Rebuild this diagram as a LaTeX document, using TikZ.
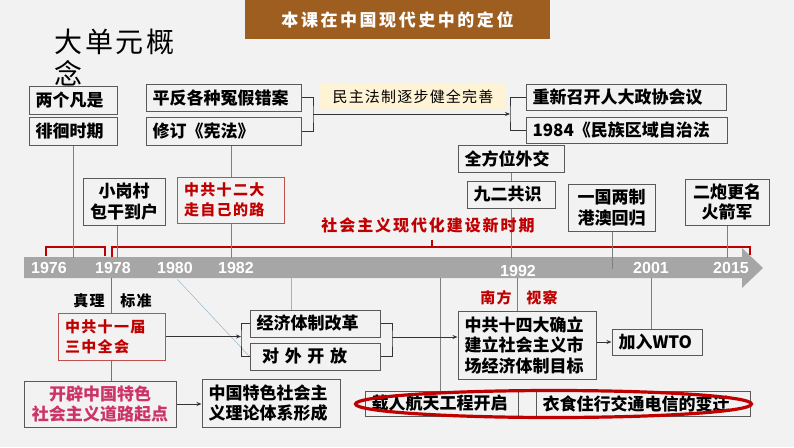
\documentclass[tikz,border=0pt]{standalone}
\usepackage{fontspec}
\setmainfont{Noto Sans CJK SC}
\newfontfamily\yearfont{Liberation Sans}
\usepackage{tikz}
\usetikzlibrary{arrows.meta,positioning,calc,shapes.geometric,backgrounds}
\usepackage{xcolor}
\definecolor{unBg}{HTML}{F2F2F2}
\definecolor{unBrown}{HTML}{9E5E1F}
\definecolor{unEdge}{HTML}{595959}
\definecolor{unRed}{HTML}{C00000}
\definecolor{unRedEdge}{HTML}{C0504D}
\definecolor{unPink}{HTML}{CC3366}
\definecolor{unCream}{HTML}{FFF3D6}
\definecolor{unTeal}{HTML}{92B9C9}
\definecolor{unAxis}{HTML}{A6A6A6}
\definecolor{unLine}{HTML}{7F7F7F}
\tikzset{
  arr/.style={-{Stealth[length=5pt,width=4pt]}, line width=0.9pt, draw=black!80},
  brk/.style={line width=0.9pt, draw=black!80},
  guide/.style={line width=0.5pt, draw=unLine},
  tealline/.style={line width=0.5pt, draw=unTeal},
  redline/.style={line width=0.6pt, draw=unRed!70},
  redbrk/.style={line width=1.1pt, draw=unRed},
  box/.style={draw=unEdge, fill=unBg, line width=1pt, inner xsep=6.5pt, inner ysep=1pt, align=left, font=\fontsize{17}{20.5}\selectfont\bfseries},
  redbox/.style={draw=unRedEdge, fill=unBg, line width=1pt, inner xsep=7pt, inner ysep=1pt, align=left, text=unRed, font=\fontsize{15}{20}\selectfont\bfseries\addfontfeature{LetterSpace=9}},
  lbl/.style={font=\fontsize{15}{18}\selectfont\bfseries\addfontfeature{LetterSpace=7}},
  tag/.style={text=unRed, font=\fontsize{16}{18}\selectfont\bfseries\addfontfeature{LetterSpace=12}},
  year/.style={text=white, font=\yearfont\fontsize{16}{18}\selectfont\bfseries},
  oval/.style={ellipse, draw=unRed, line width=3.2pt}
}

\begin{document}
\begin{tikzpicture}[x=1pt,y=-1pt]
  \useasboundingbox (0,0) rectangle (794,447);
  % title and heading
  \node[fill=unBrown, minimum width=305pt, minimum height=39pt, text=white, font=\fontsize{17}{20}\selectfont\bfseries\addfontfeature{LetterSpace=15}] (title) at (397.5,19.5) {本课在中国现代史中的定位};
  \node[anchor=west, align=left, font=\fontsize{28}{32}\selectfont\addfontfeature{LetterSpace=9}] (unit) at (51,58) {大单元概\\念};

  % upper boxes
  \node[box, text width=75pt, minimum height=28pt] (liang) at (73,100) {两个凡是};
  \node[box, text width=75pt, minimum height=28pt] (paihuai) at (73,131) {徘徊时期};
  \node[box, text width=142pt, minimum height=27pt] (pingfan) at (223.5,97.5) {平反各种冤假错案};
  \node[box, text width=142pt, minimum height=28pt] (xiuding) at (223.5,131) {修订《宪法》};
  \node[fill=unCream, minimum width=186pt, minimum height=26pt, font=\fontsize{15}{18}\selectfont\addfontfeature{LetterSpace=8}] (minzhu) at (413,97) {民主法制逐步健全完善};
  \node[box, text width=187pt, minimum height=26pt] (chongxin) at (626,97) {重新召开人大政协会议};
  \node[box, text width=188pt, minimum height=26pt] (minzu) at (626.5,130) {1984《民族区域自治法};
  \node[box, text width=93pt, minimum height=27pt] (quanfangwei) at (511,158.5) {全方位外交};
  \node[box, text width=75pt, minimum height=27pt] (jiuer) at (511,194.5) {九二共识};
  \node[box, align=center, text width=74pt, minimum height=47pt] (yiguo) at (611.5,207.5) {一国两制\\港澳回归};
  \node[box, align=center, text width=71pt, minimum height=46pt] (erpao) at (727,202) {二炮更名\\火箭军};
  \node[box, align=center, text width=69pt, minimum height=47pt] (xiaogang) at (124,201.5) {小岗村\\包干到户};
  \node[redbox, text width=93pt, minimum height=46pt] (shier) at (230.5,200) {中共十二大\\走自己的路};
  \node[tag] (era) at (428,225) {社会主义现代化建设新时期};

  % timeline years
  \foreach \yr/\x/\y in {1976/49/268,1978/113/268,1980/175/268,1982/236/268,1992/518/271,2001/651/268,2015/731/268}{
    \node[year] (yr\yr) at (\x,\y) {\yr};
  }

  % lower boxes
  \node[lbl] (zhenli) at (89,301) {真理};
  \node[lbl] (biaozhun) at (136,301) {标准};
  \node[lbl, text=unRed] (nanfang) at (496,298) {南方};
  \node[lbl, text=unRed] (shicha) at (542,298) {视察};
  \node[redbox, text width=93pt, minimum height=47pt] (shiyi) at (111.5,336.5) {中共十一届\\三中全会};
  \node[box, text width=117pt, minimum height=27pt] (jingji) at (315,323.5) {经济体制改革};
  \node[box, text width=117pt, minimum height=27pt] (duiwai) at (315,356.5) {\ 对 外 开 放};
  \node[box, text width=125pt, minimum height=68pt] (shisi) at (527,345) {中共十四大确立\\建立社会主义市\\场经济体制目标};
  \node[box, text width=77pt, minimum height=26pt] (wto) at (657,342) {加入WTO};
  \node[box, align=center, text width=139pt, minimum height=46pt, text=unPink] (kaipi) at (100,404) {开辟中国特色\\社会主义道路起点};
  \node[box, text width=125pt, minimum height=48pt] (lilun) at (271,403) {中国特色社会主\\义理论体系形成};
  \node[box, text width=140pt, minimum height=25pt] (zairen) at (441.5,403.5) {载人航天工程开启};
  \node[box, text width=5pt, minimum height=25pt] (kong) at (527,403.5) {};
  \node[box, text width=201pt, minimum height=25pt] (yishi) at (643,403.5) {衣食住行交通电信的变迁};

  % connectors
  \coordinate (joinA) at (313,114);
  \coordinate (joinB) at (510,114);
  \draw[brk] (pingfan.east) -| (joinA) |- (xiuding.east);
  \draw[arr] (joinA) -- (joinB);
  \draw[brk] (chongxin.west) -| (joinB) |- (minzu.west);
  \coordinate (joinC) at (241,336.5);
  \coordinate (joinD) at (392,337);
  \draw[arr] (shiyi.east) -- (joinC);
  \draw[brk] (jingji.west) -| (joinC) |- (duiwai.west);
  \draw[brk] (jingji.east) -| (joinD) |- (duiwai.east);
  \draw[arr] (joinD) -- (joinD -| shisi.west);
  \draw[arr] (shisi.east |- wto.west) -- (wto.west);
  \draw[arr] (kaipi.east) -- (kaipi.east -| lilun.west);

  \node[oval, minimum width=396pt, minimum height=27pt] (ring) at (553.5,404) {};

  \begin{scope}[on background layer]
    \fill[unBg] (0,0) rectangle (794,447);
    \fill[unAxis] (24,257) -- (742,257) -- (742,248) -- (763,268) -- (742,288) -- (742,278) -- (24,278) -- cycle;
    \draw[redbrk] (46,256) |- (105,247) -- (105,256);
    \draw[redbrk] (112,257) |- (750,247) -- (750,255);
    \draw[redbrk] (432,247) -- (432,240);
    \draw[guide] (paihuai.south) -- ++(0,112);
    \draw[guide] ([xshift=7.5pt]xiuding.south) -- ++(0,112);
    \draw[guide] ([xshift=-7pt]xiaogang.south) -- ++(0,32);
    \draw[guide] (quanfangwei.south) -- ++(0,85);
    \draw[guide] ([xshift=0.5pt]yiguo.south) -- ++(0,37);
    \draw[guide] (erpao.south) -- ++(0,32);
    \draw[guide] ([xshift=-1.5pt]zairen.north) -- ++(0,-113);
    \draw[guide] ([xshift=-10pt]shisi.north) -- ++(0,-33);
    \draw[guide] ([xshift=-6pt]wto.north) -- ++(0,-51);
    \draw[tealline] ([xshift=-24pt]jingji.north) -- ++(0,-32);
    \draw[tealline] (duiwai.west) -- ++(-72,-77);
    \draw[redline] (shiyi.north) -- ++(0,-35);
    \draw[redline] (shiyi.south) -- (shiyi.south |- kaipi.north);
  \end{scope}
\end{tikzpicture}
\end{document}
